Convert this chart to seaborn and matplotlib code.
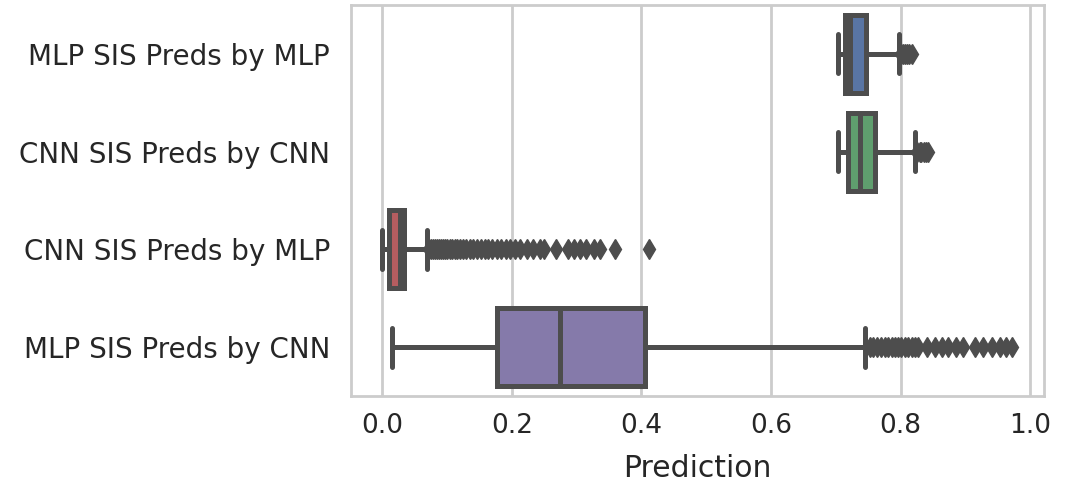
import numpy as np
import pandas as pd
import matplotlib
matplotlib.use("Agg")
import matplotlib.pyplot as plt
import seaborn as sns

# ---- data ----
categories = ["MLP SIS Preds by MLP", "CNN SIS Preds by CNN",
              "CNN SIS Preds by MLP", "MLP SIS Preds by CNN"]

# box statistics: [whisker low, Q1, median, Q3, whisker high]
stats_mlp_mlp = [0.703, 0.7135, 0.721, 0.747, 0.797]
stats_cnn_cnn = [0.703, 0.718, 0.737, 0.760, 0.822]
stats_cnn_mlp = [0.000, 0.010, 0.027, 0.0345, 0.070]
stats_mlp_cnn = [0.016, 0.178, 0.274, 0.406, 0.745]

out_mlp_mlp = [0.800, 0.803, 0.806, 0.810, 0.813, 0.817]
out_cnn_cnn = [0.825, 0.829, 0.832, 0.836, 0.839, 0.842]
out_cnn_mlp = [0.073, 0.076, 0.079, 0.082, 0.085, 0.088, 0.091, 0.094, 0.097,
               0.100, 0.104, 0.108, 0.112, 0.116, 0.120, 0.125, 0.130, 0.135,
               0.140, 0.146, 0.152, 0.158, 0.164, 0.170, 0.177, 0.184, 0.191,
               0.198, 0.205, 0.213, 0.223, 0.233, 0.243, 0.250, 0.268, 0.287,
               0.296, 0.305, 0.314, 0.327, 0.336, 0.359, 0.411]
out_mlp_cnn = [0.752, 0.757, 0.763, 0.769, 0.776, 0.781, 0.786, 0.791, 0.796,
               0.801, 0.806, 0.811, 0.817, 0.822, 0.827, 0.840, 0.853, 0.863,
               0.873, 0.886, 0.896, 0.914, 0.927, 0.940, 0.953, 0.963, 0.972]

# multiplicity of each box statistic so the quartiles land on the read values
stat_counts = [1, 100, 100, 100, 1]

all_stats = [stats_mlp_mlp, stats_cnn_cnn, stats_cnn_mlp, stats_mlp_cnn]
all_out = [out_mlp_mlp, out_cnn_cnn, out_cnn_mlp, out_mlp_cnn]

rows = []
for cat, st, ol in zip(categories, all_stats, all_out):
    vals = list(np.repeat(st, stat_counts)) + list(ol)
    rows.append(pd.DataFrame({"Prediction": vals, "Model": cat}))
df = pd.concat(rows, ignore_index=True)

colors = ["#4C72B0", "#55A868", "#C44E52", "#8172B2"]
gray = "#4d4d4d"

sns.set_theme(style="whitegrid")
plt.rcParams["font.family"] = ["DejaVu Sans"]

fig = plt.figure(figsize=(10.72, 4.83), dpi=100)
ax = fig.add_axes([0.3274, 0.1801, 0.6465, 0.8095])

sns.boxplot(data=df, x="Prediction", y="Model", hue="Model", order=categories,
            hue_order=categories, palette=colors, saturation=0.75, orient="h",
            width=0.8, linewidth=3.6, linecolor=gray, legend=False,
            fliersize=10,
            flierprops=dict(marker="d", markerfacecolor=gray,
                            markeredgecolor=gray), ax=ax)

ax.set_xlim(-0.048, 1.021)
ax.set_ylabel("")
ax.set_xlabel("Prediction", fontsize=21.5, color="#262626", labelpad=11)
ax.tick_params(axis="x", labelsize=19, pad=12, length=0, colors="#262626")
ax.tick_params(axis="y", labelsize=20, pad=15, length=0, colors="#262626")
ax.xaxis.grid(True, color="#cccccc", linewidth=2)
ax.yaxis.grid(False)
for s in ax.spines.values():
    s.set_color("#cccccc")
    s.set_linewidth(2)

fig.savefig("out.png", dpi=100)
